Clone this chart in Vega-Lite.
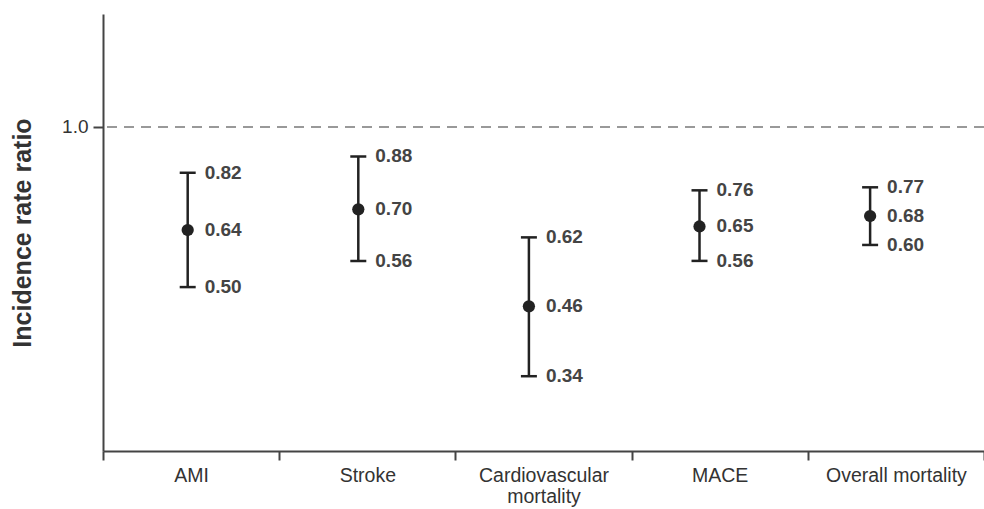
{
  "$schema": "https://vega.github.io/schema/vega-lite/v6.json",
  "width": 881,
  "height": 437,
  "autosize": {"type": "none"},
  "padding": {"left": 103, "top": 14, "right": 0, "bottom": 58},
  "config": {
    "view": {"stroke": null},
    "font": "Liberation Sans",
    "axis": {"grid": false}
  },
  "data": {
    "values": [
      {"cat": "AMI", "est": 0.64, "lo": 0.50, "hi": 0.82},
      {"cat": "Stroke", "est": 0.70, "lo": 0.56, "hi": 0.88},
      {"cat": "Cardiovascular mortality", "est": 0.46, "lo": 0.34, "hi": 0.62},
      {"cat": "MACE", "est": 0.65, "lo": 0.56, "hi": 0.76},
      {"cat": "Overall mortality", "est": 0.68, "lo": 0.60, "hi": 0.77}
    ]
  },
  "resolve": {"scale": {"x": "independent"}},
  "layer": [
    {
      "mark": {"type": "point", "opacity": 0},
      "encoding": {
        "x": {
          "field": "cat", "type": "nominal", "sort": null,
          "scale": {"type": "band", "paddingInner": 0, "paddingOuter": 0},
          "axis": {
            "title": null, "labelAngle": 0, "tickBand": "extent",
            "domainColor": "#444", "domainWidth": 2, "tickColor": "#444", "tickWidth": 2, "tickSize": 9,
            "labelFontSize": 19.5, "labelColor": "#333", "labelPadding": 6, "labelLineHeight": 21,
            "labelExpr": "datum.label == 'Cardiovascular mortality' ? ['Cardiovascular', 'mortality'] : datum.label"
          }
        },
        "y": {
          "field": "est", "type": "quantitative",
          "scale": {"type": "log", "domain": [0.246, 1.63], "nice": false},
          "axis": {
            "title": "Incidence rate ratio", "titleFontSize": 25, "titleFontWeight": "bold", "titleColor": "#333", "titlePadding": 26,
            "values": [1], "format": ".1f", "labelFontSize": 19, "labelColor": "#333", "labelPadding": 5,
            "domainColor": "#444", "domainWidth": 2, "tickColor": "#444", "tickWidth": 2, "tickSize": 10
          }
        }
      }
    },
    {
      "encoding": {
        "x": {
          "field": "cat", "type": "nominal", "sort": null,
          "scale": {"type": "point", "padding": 0.582, "align": 0.4265},
          "axis": null
        }
      },
      "layer": [
        {
          "mark": {"type": "rule", "color": "#999", "strokeWidth": 2, "strokeDash": [10, 7]},
          "encoding": {"x": null, "y": {"datum": 1, "type": "quantitative"}}
        },
        {
          "mark": {"type": "rule", "color": "#222", "strokeWidth": 2.5},
          "encoding": {
            "y": {"field": "lo", "type": "quantitative"},
            "y2": {"field": "hi"}
          }
        },
        {
          "mark": {"type": "tick", "color": "#222", "thickness": 2.5, "size": 16, "orient": "horizontal", "opacity": 1},
          "encoding": {"y": {"field": "lo", "type": "quantitative"}}
        },
        {
          "mark": {"type": "tick", "color": "#222", "thickness": 2.5, "size": 16, "orient": "horizontal", "opacity": 1},
          "encoding": {"y": {"field": "hi", "type": "quantitative"}}
        },
        {
          "mark": {"type": "circle", "color": "#222", "size": 150, "opacity": 1},
          "encoding": {"y": {"field": "est", "type": "quantitative"}}
        },
        {
          "mark": {"type": "text", "align": "left", "baseline": "middle", "dx": 17, "fontSize": 19, "fontWeight": "bold", "color": "#444"},
          "encoding": {"y": {"field": "est", "type": "quantitative"}, "text": {"field": "est", "format": ".2f"}}
        },
        {
          "mark": {"type": "text", "align": "left", "baseline": "middle", "dx": 17, "fontSize": 19, "fontWeight": "bold", "color": "#444"},
          "encoding": {"y": {"field": "lo", "type": "quantitative"}, "text": {"field": "lo", "format": ".2f"}}
        },
        {
          "mark": {"type": "text", "align": "left", "baseline": "middle", "dx": 17, "fontSize": 19, "fontWeight": "bold", "color": "#444"},
          "encoding": {"y": {"field": "hi", "type": "quantitative"}, "text": {"field": "hi", "format": ".2f"}}
        }
      ]
    }
  ]
}
